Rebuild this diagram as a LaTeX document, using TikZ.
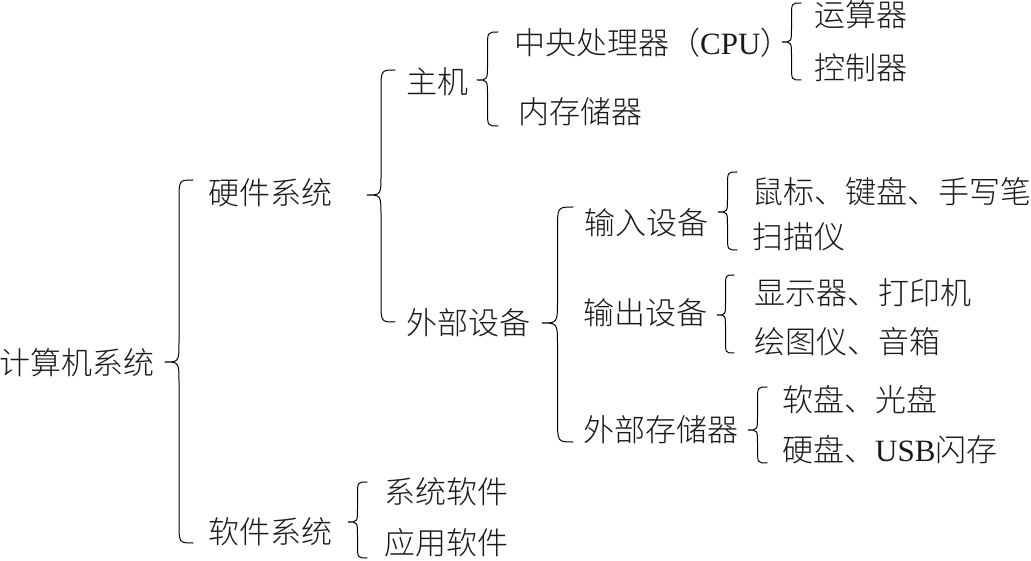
\documentclass[tikz,border=0pt]{standalone}
\usepackage{fontspec}
\setmainfont{Liberation Serif}
\IfFontExistsTF{Noto Sans CJK SC Light}
  {\newfontfamily\cjk{Noto Sans CJK SC Light}}
  {\newfontfamily\cjk{Noto Sans CJK SC}}
\newcommand\lat[1]{{\rmfamily #1}}
% left curly brace: #1 tip x, #2 end x, #3 top y, #4 tip y, #5 bottom y
\newcommand\curlyb[5]{%
  \pgfmathsetmacro\bxs{(#1+#2)/2}%
  \pgfmathsetmacro\br{0.75*(#2-#1)}%
  \draw[bracel] (#2,#3) .. controls (\bxs,#3) .. (\bxs,#3+\br) -- (\bxs,#4-\br)
    .. controls (\bxs,#4) .. (#1,#4) .. controls (\bxs,#4) .. (\bxs,#4+\br)
    -- (\bxs,#5-\br) .. controls (\bxs,#5) .. (#2,#5);}
\begin{document}
\begin{tikzpicture}[x=1pt,y=-1pt,
  lbl/.style={anchor=west,inner sep=0pt,text=black!90,font=\cjk\fontsize{31}{31}\selectfont},
  bracel/.style={draw=black,line width=1pt,line cap=round,line join=round}]
\useasboundingbox (0,0) rectangle (1031,561);
% texts
\node[lbl] (jsj) at (-1,363) {计算机系统};
\node[lbl] (yj) at (208,193) {硬件系统};
\node[lbl] (rj) at (208,532) {软件系统};
\node[lbl] (zj) at (406,82) {主机};
\node[lbl] (wb) at (406,323) {外部设备};
\node[lbl] (cpu) at (514,43) {中央处理器（\lat{CPU}）};
\node[lbl] (nc) at (518,112) {内存储器};
\node[lbl] (ys) at (814,15) {运算器};
\node[lbl] (kz) at (814,68) {控制器};
\node[lbl] (sr) at (584,223) {输入设备};
\node[lbl] (sc) at (583,313) {输出设备};
\node[lbl] (wc) at (583,430) {外部存储器};
\node[lbl] (sb) at (752,192) {鼠标、键盘、手写笔};
\node[lbl] (sm) at (752,237) {扫描仪};
\node[lbl] (xs) at (754,293) {显示器、打印机};
\node[lbl] (ht) at (754,342) {绘图仪、音箱};
\node[lbl] (rp) at (782,400) {软盘、光盘};
\node[lbl] (yp) at (782,450) {硬盘、\lat{USB}闪存};
\node[lbl] (xt) at (384,492) {系统软件};
\node[lbl] (yy) at (384,543) {应用软件};
% braces
\curlyb{165}{193}{180}{362}{543}
\curlyb{367}{395}{70}{195}{322}
\curlyb{477}{498}{32}{80}{126}
\curlyb{782}{801}{3}{42}{80}
\curlyb{542}{573}{207}{323}{442}
\curlyb{718}{737}{172}{212}{250}
\curlyb{717}{734}{275}{315}{353}
\curlyb{748}{767}{387}{430}{463}
\curlyb{348}{367}{482}{522}{558}
\end{tikzpicture}
\end{document}
